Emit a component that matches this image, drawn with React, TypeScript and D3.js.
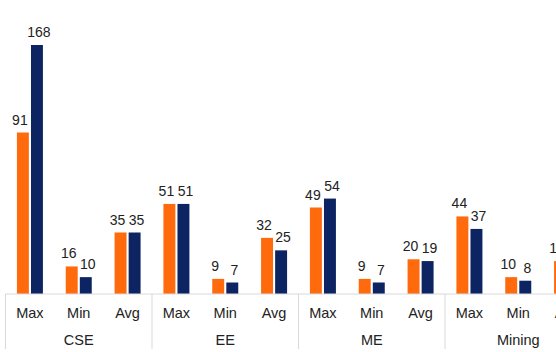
import React from "react";
import * as d3 from "d3";

const groups = ["CSE", "EE", "ME", "Mining"];
const categories = ["Max", "Min", "Avg"];
const seriesNames = ["Series A", "Series B"];
// values per group, per category
const seriesA = [
  [91, 16, 35],
  [51, 9, 32],
  [49, 9, 20],
  [44, 10, 19],
];
const seriesB = [
  [168, 10, 35],
  [51, 7, 25],
  [54, 7, 19],
  [37, 8, 16],
];
const colors = ["#FF6A0C", "#0D2462"];

const W = 556;
const H = 352;

export default function App() {
  const xGroup = d3.scaleBand<string>().domain(groups).range([5.5, 591.5]).padding(0);
  const xCat = d3.scaleBand<string>().domain(categories).range([0, xGroup.bandwidth()]).padding(0);
  const xSeries = d3.scaleBand<string>().domain(seriesNames).range([0, 26]).paddingInner(0.15);
  const y = d3.scaleLinear().domain([0, 140]).range([295, 45]).clamp(true);
  const axisY = 294;
  const font = "'Liberation Sans', Arial, sans-serif";
  const all = [seriesA, seriesB];

  return (
    <svg width={W} height={H} style={{ position: "fixed", left: 0, top: 0, background: "#fff" }} fontFamily={font}>
      {groups.map((g, gi) => {
        const gx = xGroup(g)!;
        return (
          <g key={g}>
            {categories.map((c, ci) => {
              const cx = gx + xCat(c)! + xCat.bandwidth() / 2;
              const start = cx - 13;
              return (
                <g key={c}>
                  {all.map((s, si) => {
                    const v = s[gi][ci];
                    const bx = start + xSeries(seriesNames[si])!;
                    const bw = xSeries.bandwidth();
                    const top = y(v);
                    return (
                      <g key={si}>
                        <rect x={bx} y={top} width={bw} height={axisY - top} fill={colors[si]} />
                        <text
                          x={bx + bw / 2 + (si === 0 ? -3 : 2)}
                          y={top - 8}
                          textAnchor="middle"
                          fontSize={14}
                          fill="#222"
                        >
                          {v}
                        </text>
                      </g>
                    );
                  })}
                  <text x={cx} y={317.5} textAnchor="middle" fontSize={14.5} fill="#222">
                    {c}
                  </text>
                </g>
              );
            })}
            <text x={gx + xGroup.bandwidth() / 2} y={345} textAnchor="middle" fontSize={14.5} fill="#222">
              {g}
            </text>
            <line x1={gx} x2={gx} y1={axisY} y2={349} stroke="#d9d9d9" strokeWidth={1} />
          </g>
        );
      })}
      <line x1={5.5} x2={W} y1={axisY} y2={axisY} stroke="#d9d9d9" strokeWidth={1.2} />
    </svg>
  );
}
